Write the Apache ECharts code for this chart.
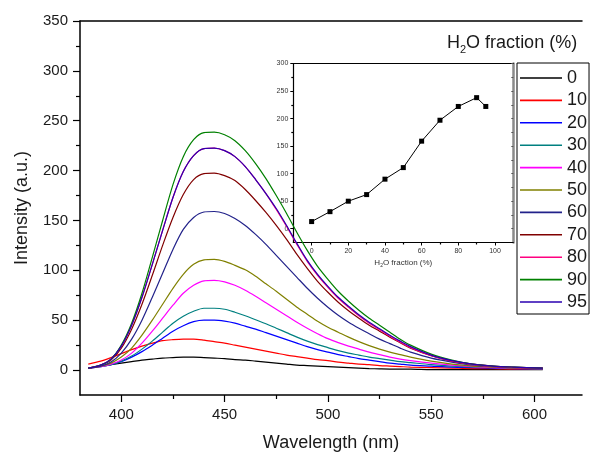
<!DOCTYPE html>
<html>
<head>
<meta charset="utf-8">
<script src="https://cdn.jsdelivr.net/npm/echarts@6/dist/echarts.min.js"></script>
<style>
html,body{margin:0;padding:0;background:#fff;}
#chart{width:593px;height:457px;}
</style>
</head>
<body>
<div id="chart"></div>
<script>
// ---- data ----
const wavelength = [384,390,395,400,405,410,415,420,425,430,435,440,445,450,455,460,465,470,475,480,485,490,495,500,505,510,515,520,525,530,535,540,550,560,570,580,590,604];
const fractions = ['0','10','20','30','40','50','60','70','80','90','95'];
const s0  = [2,4,5.5,7,8.5,10,11,12,12.5,13,13,12.5,12,11.5,10.5,10,9,8,7,6,5,4.5,4,3.5,3,2.5,2,1.5,1.2,1,1,1,0.5,0.5,0.5,0.5,0.5,0.5];
const s10 = [6,9,12.5,16.5,20.5,24,27,29.5,30.5,31,31,30,28.5,27,25,23,21,19,17,15,13.5,12,10.5,9.5,8,7,6,5.5,4.5,4,3.5,3,2.5,2,1.5,1.5,1,1];
const s20 = [2,3.5,5.5,8.5,13,18.5,25,32,39,44.5,48.5,50,50,49,47,44,41,37.5,34,30.5,27,23.5,20.5,18,15.5,13.5,11.5,10,8.5,7,6,5,4,3,2.5,2,1.5,1];
const s30 = [2,3.5,5.5,9,14,21,29,38,47,54,59,62,62,61,58,54.5,50.5,46.5,42,37.5,33,29,25.5,22.5,19.5,17,15,13,11.5,10,8.5,7.5,5.5,4,3,2.5,2,1.5];
const s40 = [2,3.5,6,10,17,27,39,52,65,77,85,89.5,90,88.5,85,80,74,67.5,61,54.5,48,42,36.5,31.5,27.5,24,21,18,15.5,13,11,9.5,7,5,3.5,2.5,2,1.5];
const s50 = [2,4,7,13,22,35,50,66,82,96,106,110.5,111,109,105,100.5,94,86.5,79,71,63,56,49,43,38,33,28.5,24.5,21,18,15.5,13,9,6,4,3,2,1.5];
const s60 = [2,4,8,17,31,50,73,97,121,141,153,158.5,159,157,152,145,136,126,115,104,93,82,72,63,55,48,42,36.5,31,26.5,22,18,12,8,5,3.5,2.5,2];
const s70 = [2,5,10,22,41,66,95,125,153,176,191,197,197.5,195,190,181,170,158,145,131,116,102,89,78,68,59.5,52,45,39,33,27.5,22,14.5,9,6,4,3,2];
const s80 = [2,5,11,24,45,73,106,140,173,199,215,222,222.5,220,214,204,191,177,161,144,126,109,95,83,72,63,54.5,47,40.5,34,28,22.5,14.5,9,5.5,3.5,2.5,2];
const s90 = [2,5,11,25,47,77,113,150,186,214,231,238,238.5,236,230,220,207,192,175,157,138,120,104,91,79,69,60,52,45,38,31,25,16,10,6,4,3,2];
const s95 = [2,5,11,24,45,73,106,140,173,199,215,222,222.5,220,214,204,191,177,162,145,127,110,96,84,73,64,55.5,48,41.5,35,29,23.5,15,9.5,6,4,3,2];
const seriesValues = [s0,s10,s20,s30,s40,s50,s60,s70,s80,s90,s95];
const colors = ['#000000','#FF0000','#0000FF','#008080','#FF00FF','#808000','#22228A','#800000','#FF0080','#008000','#2A00B0'];

const insetX = [0,10,20,30,40,50,60,70,80,90,95];
const insetY = [13,31,50,62,90,111,159,197,222,238,222];

const xMajor = [400,450,500,550,600];
const xMinor = [425,475,525,575];
const yMajor = [0,50,100,150,200,250,300,350];
const yMinor = [25,75,125,175,225,275,325];
const ixMajor = [0,20,40,60,80,100];
const ixMinor = [10,30,50,70,90];
const iyMajor = [0,50,100,150,200,250,300];
const iyMinor = [25,75,125,175,225,275];

// ---- chart ----
const FONT = 'Arial, "Liberation Sans", sans-serif';
const TXT = '#1a1a1a';
const chart = echarts.init(document.getElementById('chart'), null, {renderer:'canvas'});

function tickAxis(gridIndex, min, max, pos, ticks, len) {
  return {
    type:'value', gridIndex, min, max, position: pos,
    axisLine:{show:false, onZero:false},
    axisTick:{show:true, customValues:ticks, length:len, lineStyle:{color:'#000', width:1.2}},
    axisLabel:{show:false}, splitLine:{show:false}
  };
}
function borderAxis(gridIndex, min, max, pos, color, width) {
  return {
    type:'value', gridIndex, min, max, position: pos,
    axisLine:{show:true, onZero:false, lineStyle:{color, width}},
    axisTick:{show:false}, axisLabel:{show:false}, splitLine:{show:false}
  };
}

const series = seriesValues.map((vals, k) => ({
  name: fractions[k], type:'line', xAxisIndex:0, yAxisIndex:0,
  data: wavelength.map((w,i)=>[w, vals[i]]),
  symbol:'none', smooth:0.3, silent:true,
  lineStyle:{color:colors[k], width:1.2}, itemStyle:{color:colors[k]}
}));
series.push({
  name:'inset', type:'line', xAxisIndex:3, yAxisIndex:2,
  data: insetX.map((x,i)=>[x, insetY[i]]),
  symbol:'rect', symbolSize:5,
  lineStyle:{color:'#000', width:1}, itemStyle:{color:'#000'}
});

const option = {
  animation:false,
  backgroundColor:'#fff',
  grid:[
    {left:80, top:21, width:502, height:377},
    {left:293.3, top:63.5, width:220, height:179}
  ],
  xAxis:[
    {type:'value', gridIndex:0, min:380, max:623, position:'bottom',
     axisLine:{show:true, onZero:false, lineStyle:{color:'#000', width:1.5}},
     axisTick:{show:true, customValues:xMajor, length:7, lineStyle:{color:'#000', width:1.2}},
     axisLabel:{show:true, customValues:xMajor, fontSize:15, fontFamily:FONT, color:TXT, margin:12},
     splitLine:{show:false},
     name:'Wavelength (nm)', nameLocation:'middle', nameGap:39,
     nameTextStyle:{fontSize:18, fontFamily:FONT, color:TXT}},
    tickAxis(0, 380, 623, 'bottom', xMinor, 4),
    borderAxis(0, 380, 623, 'top', '#000', 1.5),
    {type:'value', gridIndex:1, min:-10, max:110, position:'bottom',
     axisLine:{show:true, onZero:false, lineStyle:{color:'#000', width:1.2}},
     axisTick:{show:true, customValues:ixMajor, length:3, lineStyle:{color:'#000', width:1}},
     axisLabel:{show:true, customValues:ixMajor, fontSize:7, fontFamily:FONT, color:'#333', margin:5},
     splitLine:{show:false},
     name:'{n|H}{s|2}{n|O fraction (%)}', nameLocation:'middle', nameGap:14,
     nameTextStyle:{fontFamily:FONT, color:'#333',
       rich:{n:{fontSize:8, fontFamily:FONT, color:'#333', lineHeight:12, verticalAlign:'middle'},
             s:{fontSize:5, fontFamily:FONT, color:'#333', lineHeight:12, verticalAlign:'bottom'}}}},
    tickAxis(1, -10, 110, 'bottom', ixMinor, 2),
    borderAxis(1, -10, 110, 'top', '#000', 1.2)
  ],
  yAxis:[
    {type:'value', gridIndex:0, min:-25, max:350, position:'left',
     axisLine:{show:true, onZero:false, lineStyle:{color:'#000', width:1.5}},
     axisTick:{show:true, customValues:yMajor, length:7, lineStyle:{color:'#000', width:1.2}},
     axisLabel:{show:true, customValues:yMajor, fontSize:15, fontFamily:FONT, color:TXT, margin:12},
     splitLine:{show:false},
     name:'Intensity (a.u.)', nameLocation:'middle', nameGap:49,
     nameTextStyle:{fontSize:18, fontFamily:FONT, color:TXT}},
    tickAxis(0, -25, 350, 'left', yMinor, 4),
    {type:'value', gridIndex:1, min:-25, max:300, position:'left',
     axisLine:{show:true, onZero:false, lineStyle:{color:'#000', width:1.2}},
     axisTick:{show:true, customValues:iyMajor, length:3, lineStyle:{color:'#000', width:1}},
     axisLabel:{show:true, customValues:iyMajor, fontSize:7, fontFamily:FONT, color:'#333', margin:5},
     splitLine:{show:false}},
    tickAxis(1, -25, 300, 'left', iyMinor, 2),
    {type:'value', gridIndex:1, min:-25, max:300, position:'right',
     axisLine:{show:true, onZero:false, lineStyle:{color:'#8a8a8a', width:2.5}},
     axisTick:{show:true, inside:true, customValues:iyMajor.concat(iyMinor), length:2, lineStyle:{color:'#555', width:1}},
     axisLabel:{show:false}, splitLine:{show:false}}
  ],
  legend:{
    data:fractions, orient:'vertical', left:517, top:63,
    icon:'rect', itemWidth:42, itemHeight:1.6, itemGap:4.4,
    padding:[6,2,3,3],
    borderColor:'#000', borderWidth:1, borderRadius:0,
    textStyle:{fontSize:18, fontFamily:FONT, color:TXT, lineHeight:18},
    selectedMode:false
  },
  graphic:[{
    type:'text', left:447, top:34,
    style:{
      text:'{n|H}{s|2}{n|O fraction (%)}',
      rich:{n:{fontSize:18, fontFamily:FONT, fill:TXT, lineHeight:24, verticalAlign:'middle'},
            s:{fontSize:11, fontFamily:FONT, fill:TXT, lineHeight:24, verticalAlign:'bottom'}}
    }
  }],
  series
};
chart.setOption(option);
</script>
</body>
</html>
